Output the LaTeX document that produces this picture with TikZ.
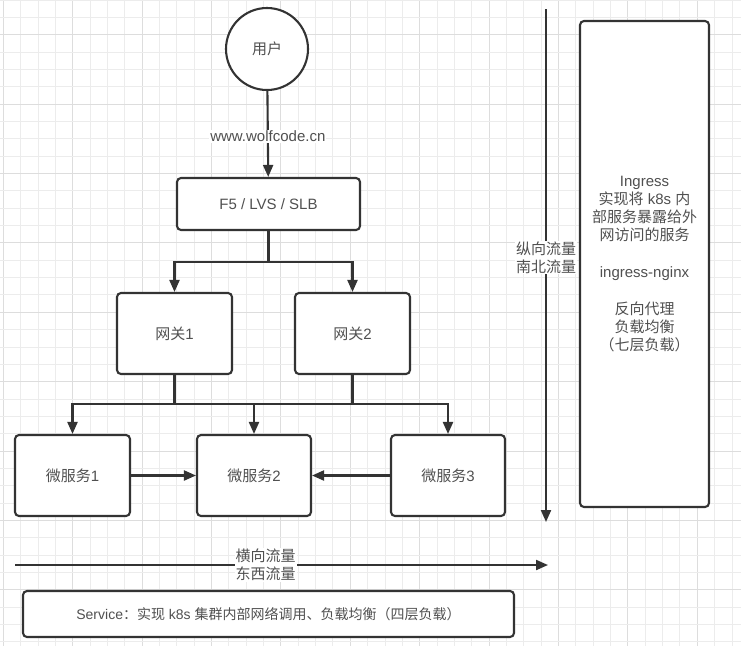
\documentclass[tikz,border=0pt]{standalone}
\usepackage{fontspec}
\setmainfont{Liberation Sans}
\newfontfamily\cjk{Noto Sans CJK SC}
\usetikzlibrary{arrows.meta,positioning}
\definecolor{linec}{HTML}{333333}
\definecolor{textc}{HTML}{505050}
\definecolor{gridminor}{HTML}{ECECEC}
\definecolor{gridmajor}{HTML}{DDDDDD}
\begin{document}
\begin{tikzpicture}[x=1pt,y=-1pt,
  box/.style={draw=linec,line width=2.1pt,rounded corners=4pt,fill=white,
    text=textc,font=\fontsize{15}{18.3}\selectfont,align=center,inner sep=0pt},
  conn/.style={draw=linec,line width=2.1pt},
  arr/.style={conn,-{Triangle[length=12pt,width=10pt]}},
  lbl/.style={text=textc,font=\fontsize{15}{17.5}\selectfont,align=center,fill=white,inner sep=1pt}]
\useasboundingbox (0,0) rectangle (741,646);
\fill[white] (0,0) rectangle (741,646);
% grid
\foreach \i in {0,...,42} {
  \pgfmathtruncatemacro{\m}{mod(\i,4)}
  \ifnum\m=0
    \draw[gridmajor,line width=1pt] ({3.3+\i*17.35},0) -- ({3.3+\i*17.35},646);
  \else
    \draw[gridminor,line width=1pt] ({3.3+\i*17.35},0) -- ({3.3+\i*17.35},646);
  \fi
}
\foreach \j in {0,...,37} {
  \pgfmathtruncatemacro{\m}{mod(\j,4)}
  \ifnum\m=2
    \draw[gridmajor,line width=1pt] (0,{\j*17.35}) -- (741,{\j*17.35});
  \else
    \draw[gridminor,line width=1pt] (0,{\j*17.35}) -- (741,{\j*17.35});
  \fi
}
% nodes
\node[box,circle,minimum size=82pt,rounded corners=0pt] (user) at (267,49) {\cjk 用户};
\node[box,minimum width=183pt,minimum height=52pt] (f5) at (268.5,204) {F5 / LVS / SLB};
\node[box,minimum width=115pt,minimum height=81pt] (gw1) at (174.5,333.5) {{\cjk 网关}1};
\node[box,minimum width=115pt,minimum height=81pt] (gw2) at (352.5,333.5) {{\cjk 网关}2};
\node[box,minimum width=115pt,minimum height=81pt] (ms1) at (72.5,475.5) {{\cjk 微服务}1};
\node[box,minimum width=114pt,minimum height=81pt] (ms2) at (254,475.5) {{\cjk 微服务}2};
\node[box,minimum width=114pt,minimum height=81pt] (ms3) at (448,475.5) {{\cjk 微服务}3};
\node[box,minimum width=129pt,minimum height=486pt] (ing) at (644.5,264)
  {Ingress\\{\cjk 实现将} k8s {\cjk 内}\\{\cjk 部服务暴露给外}\\{\cjk 网访问的服务}\\[18.3pt]ingress-nginx\\[18.3pt]{\cjk 反向代理}\\{\cjk 负载均衡}\\{\cjk （七层负载）}};
\node[box,minimum width=491pt,minimum height=46pt,font=\fontsize{14}{17}\selectfont] (svc) at (268.5,614)
  {Service{\cjk ：实现} k8s {\cjk 集群内部网络调用、负载均衡（四层负载）}};
% user -> f5
\draw[arr] (user) -- node[lbl,pos=0.53] {www.wolfcode.cn} (f5);
% f5 -> gateways
\coordinate (split1) at (268.5,262);
\draw[conn] (f5.south) -- (split1);
\draw[arr] (split1) -| (gw1.north);
\draw[arr] (split1) -| (gw2.north);
% gateways -> microservices
\coordinate (j1) at (174.5,404);
\coordinate (j2) at (352.5,404);
\draw[conn] (gw1.south) -- (j1);
\draw[conn] (gw2.south) -- (j2);
\draw[conn] (j1) -- (j2);
\draw[arr] (j1) -| (ms1.north);
\draw[arr] (j1) -| (ms2.north);
\draw[arr] (j2) -| (ms3.north);
% east-west between services
\draw[arr] (ms1.east) -- (ms2.west);
\draw[arr] (ms3.west) -- (ms2.east);
% vertical traffic arrow
\coordinate (vt) at (546,9);
\coordinate (vb) at (546,522);
\draw[arr] (vt) -- node[lbl,pos=0.485] {\cjk 纵向流量\\\cjk 南北流量} (vb);
% horizontal traffic arrow
\coordinate (hl) at (15,565);
\coordinate (hr) at (548,565);
\draw[arr] (hl) -- node[lbl,pos=0.47] {\cjk 横向流量\\\cjk 东西流量} (hr);
\end{tikzpicture}
\end{document}
